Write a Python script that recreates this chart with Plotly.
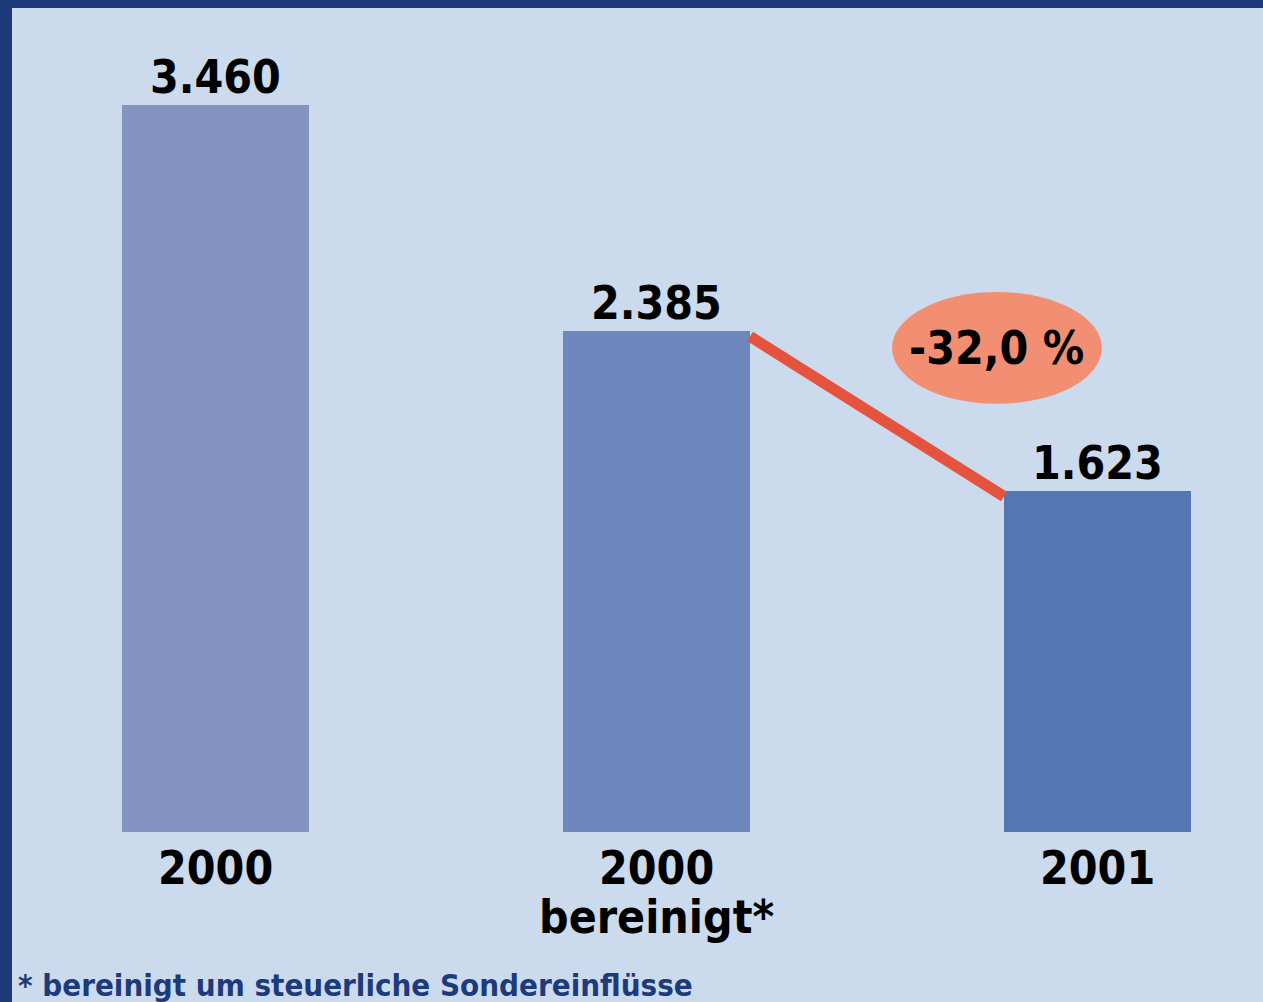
import plotly.graph_objects as go

# ---- data ----
categories = ["2000", "2000", "2001"]
subtitles = ["", "bereinigt*", ""]
values = [3460, 2385, 1623]
value_labels = ["3.460", "2.385", "1.623"]
change_label = "-32,0 %"
footnote = "* bereinigt um steuerliche Sondereinflüsse"

# ---- style ----
W, H = 1263, 1002
BG = "#cbdaec"
BORDER = "#1d3a7a"
BAR_COLORS = ["#8394c2", "#6e87bd", "#5577b1"]
LINE_COLOR = "#e5533f"
ELLIPSE_COLOR = "#f28f72"
FONT = "Liberation Sans Narrow, DejaVu Sans Condensed, Arial Narrow, sans-serif"
FS = 46
BAR_W = 0.424
X_RANGE = [-0.4887, 2.3753]
Y_RANGE = [-809, 3960]
LINE_W = 11

xs = list(range(len(values)))
px_per_unit = H / (Y_RANGE[1] - Y_RANGE[0])
off = (LINE_W / 2) / px_per_unit

fig = go.Figure()

fig.add_trace(go.Bar(
    x=xs, y=values, width=BAR_W,
    marker=dict(color=BAR_COLORS, line=dict(width=0)),
    hoverinfo="skip", showlegend=False,
))

# connecting line between bar 2 and bar 3
fig.add_trace(go.Scatter(
    x=[xs[1] + BAR_W / 2, xs[2] - BAR_W / 2],
    y=[values[1] - off, values[2] - off],
    mode="lines", line=dict(color=LINE_COLOR, width=LINE_W),
    hoverinfo="skip", showlegend=False,
))

# ellipse with the change label
ex, ey = 1.772, 2304
fig.add_shape(type="circle", xref="x", yref="y",
              x0=ex - 0.238, x1=ex + 0.238, y0=ey - 266, y1=ey + 266,
              fillcolor=ELLIPSE_COLOR, line=dict(width=0), layer="below")
fig.add_annotation(x=ex, y=ey, xref="x", yref="y", text=f"<b>{change_label}</b>",
                   showarrow=False, font=dict(family=FONT, size=FS, color="black"),
                   yshift=0)

# value labels
for x, v, lab in zip(xs, values, value_labels):
    fig.add_annotation(x=x, y=v, xref="x", yref="y", text=f"<b>{lab}</b>",
                       showarrow=False, yanchor="bottom", yshift=-1,
                       font=dict(family=FONT, size=FS, color="black"))

# category labels
for x, c, s in zip(xs, categories, subtitles):
    fig.add_annotation(x=x, y=0, xref="x", yref="y", text=f"<b>{c}</b>",
                       showarrow=False, yanchor="top", yshift=-7,
                       font=dict(family=FONT, size=FS, color="black"))
    if s:
        fig.add_annotation(x=x, y=0, xref="x", yref="y", text=f"<b>{s}</b>",
                           showarrow=False, yanchor="top", yshift=-56,
                           font=dict(family=FONT, size=FS, color="black"))

# footnote
fig.add_annotation(x=16 / W, y=0, xref="paper", yref="paper", text=f"<b>{footnote}</b>",
                   showarrow=False, xanchor="left", yanchor="bottom", yshift=-3,
                   font=dict(family=FONT, size=31, color=BORDER))

# frame borders (top and left)
fig.add_shape(type="rect", xref="paper", yref="paper", x0=0, x1=12 / W, y0=0, y1=1,
              fillcolor=BORDER, line=dict(width=0))
fig.add_shape(type="rect", xref="paper", yref="paper", x0=0, x1=1, y0=1 - 8 / H, y1=1,
              fillcolor=BORDER, line=dict(width=0))

fig.update_layout(
    width=W, height=H,
    margin=dict(l=0, r=0, t=0, b=0),
    paper_bgcolor=BG, plot_bgcolor=BG,
    xaxis=dict(range=X_RANGE, visible=False, fixedrange=True),
    yaxis=dict(range=Y_RANGE, visible=False, fixedrange=True),
    bargap=0,
)

fig.write_html("out.html", config={"displayModeBar": False},
               post_script="document.body.style.margin='0';document.body.style.overflow='hidden';")
